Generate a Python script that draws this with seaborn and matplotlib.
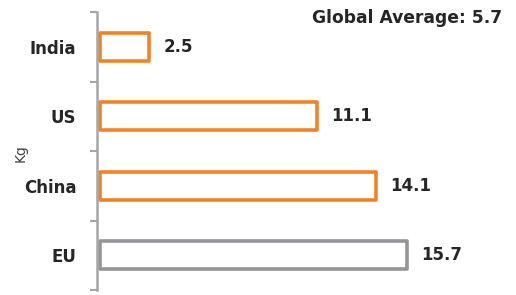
import matplotlib
matplotlib.use("Agg")
import matplotlib.pyplot as plt
import numpy as np
import pandas as pd
import seaborn as sns

categories = ['India', 'US', 'China', 'EU']
values = [2.5, 11.1, 14.1, 15.7]
colors = ['#F58220', '#F58220', '#F58220', '#939598']
global_avg = 5.7

df = pd.DataFrame({'country': categories, 'kg': values})

sns.set_style('white')
plt.rcParams['font.family'] = ['DejaVu Sans']

fig = plt.figure(figsize=(5.16, 2.95), dpi=100)
ax = fig.add_axes([97 / 516, 5 / 295, 1 - 97 / 516, 278 / 295])

sns.barplot(data=df, x='kg', y='country', hue='country', palette=colors,
            fill=False, width=0.4, linewidth=2.6, legend=False, ax=ax)
for p in ax.patches:
    p.set_joinstyle('round')

ax.set_xlim(-0.17, 21.26)
ax.set_ylim(3.5, -0.5)

# value labels
for i, v in enumerate(values):
    ax.text(v + 0.72, i, f'{v}', va='center', ha='left',
            fontsize=12, fontweight='bold', color='#262626')

ax.text(0.967, 1.012, f'Global Average: {global_avg}', transform=ax.transAxes,
        ha='right', va='top', fontsize=12.3, fontweight='bold', color='#262626')

sns.despine(ax=ax, top=True, right=True, bottom=True)
ax.spines['left'].set_color('#a6a6a6')
ax.spines['left'].set_linewidth(1.8)
ax.set_xticks([])

# category labels at centers, tick marks at boundaries
ax.set_yticks(range(len(categories)))
ax.set_yticklabels(categories, fontsize=12, fontweight='bold', color='#262626')
ax.tick_params(axis='y', which='major', length=0, pad=15)
ax.set_yticks(np.arange(-0.5, len(categories)), minor=True)
ax.tick_params(axis='y', which='minor', left=True, length=5, width=1.5,
               color='#a6a6a6', direction='out')

ax.set_xlabel('')
ax.set_ylabel('')
fig.text(21 / 516, 1 - 153 / 295, 'Kg', rotation=90, ha='center', va='center',
         fontsize=10, color='#404040')

fig.savefig('out.png', dpi=100)
